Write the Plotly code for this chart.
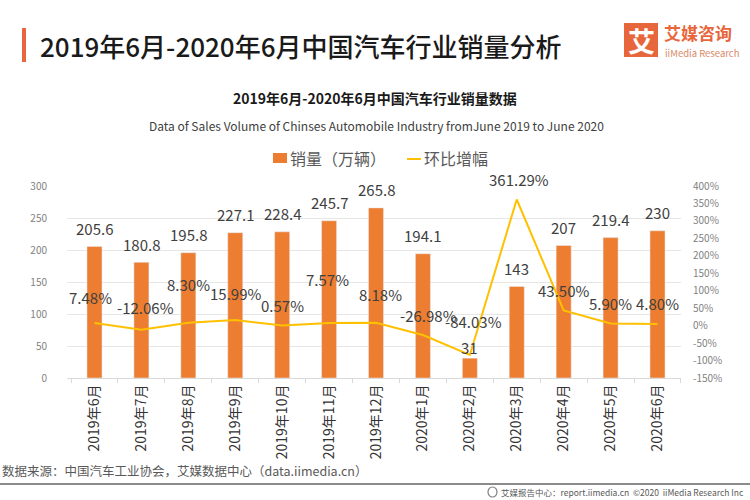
import plotly.graph_objects as go

months = ["2019年6月", "2019年7月", "2019年8月", "2019年9月", "2019年10月", "2019年11月",
          "2019年12月", "2020年1月", "2020年2月", "2020年3月", "2020年4月", "2020年5月", "2020年6月"]
sales = [205.6, 180.8, 195.8, 227.1, 228.4, 245.7, 265.8, 194.1, 31, 143, 207, 219.4, 230]
mom_growth = [7.48, -12.06, 8.30, 15.99, 0.57, 7.57, 8.18, -26.98, -84.03, 361.29, 43.50, 5.90, 4.80]
sales_tickvals = [0, 50, 100, 150, 200, 250, 300]
growth_tickvals = [-150, -100, -50, 0, 50, 100, 150, 200, 250, 300, 350, 400]
growth_ticktext = [f"{v}%" for v in growth_tickvals]

W, H = 750, 500
L, R, T, B = 67, 69, 186, 122
PW, PH = W - L - R, H - T - B


def px(x):
    return (x - L) / PW


def py(y):
    return (H - B - y) / PH


FONT = "Noto Sans CJK SC, Noto Sans, sans-serif"
ORANGE = "#ED7D31"
YELLOW = "#FFC000"
TXT = "#404040"
LOGO = "#E8663C"

fig = go.Figure()
fig.add_trace(go.Bar(x=months, y=sales, name="销量（万辆）", marker_color=ORANGE,
                     width=0.32, yaxis="y", showlegend=False))
fig.add_trace(go.Scatter(x=months, y=mom_growth, name="环比增幅", mode="lines",
                         line=dict(color=YELLOW, width=2), yaxis="y2", showlegend=False))

annotations = []
# bar value labels
bar_shift = [18] * len(sales)
bar_shift[8] = 11
for m, v, s in zip(months, sales, bar_shift):
    annotations.append(dict(x=m, y=v, xref="x", yref="y", text=f"{v:g}", showarrow=False,
                            yanchor="middle", yshift=s, font=dict(size=15, color=TXT, family=FONT)))
# line value labels
line_shift = [26, 22, 38, 27, 20, 43, 28, 20, 33, 20, 20, 20, 20]
line_xshift = [-4, 4, 0, 0, 0, -2, 4, 6, 4, 2, 0, 0, 0]
for m, v, s, xs in zip(months, mom_growth, line_shift, line_xshift):
    annotations.append(dict(x=m, y=v, xref="x", yref="y2", text=f"{v:.2f}%", showarrow=False,
                            yanchor="middle", yshift=s, xshift=xs,
                            font=dict(size=15, color=TXT, family=FONT)))


def txt(x, y, text, size, color, anchor="left", weight=None, family=FONT):
    f = dict(size=size, color=color, family=family)
    if weight:
        f["weight"] = weight
    return dict(x=px(x), y=py(y), xref="paper", yref="paper", xanchor=anchor, yanchor="middle",
                text=text, showarrow=False, font=f, borderpad=0)


annotations += [
    txt(39, 45, "2019年6月-2020年6月中国汽车行业销量分析", 26, "#1a1a1a", weight=500),
    txt(375, 98, "<b>2019年6月-2020年6月中国汽车行业销量数据</b>", 14, "#1a1a1a", anchor="center"),
    txt(376, 125, "Data of Sales Volume of Chinses Automobile Industry fromJune 2019 to June 2020",
        12, TXT, anchor="center"),
    # legend
    txt(289, 158, "销量（万辆）", 16, "#595959"),
    txt(423, 158, "环比增幅", 16, "#595959"),
    # logo
    txt(641, 40, "<b>艾</b>", 27, "white", anchor="center"),
    txt(663, 32, "<b>艾媒咨询</b>", 17, LOGO),
    txt(664, 53, "iiMedia Research", 9.5, "#D98A6A"),
    # footer
    txt(1, 470, "数据来源：中国汽车工业协会，艾媒数据中心（data.iimedia.cn）", 12.5, "#595959"),
    txt(500, 492, "艾媒报告中心：report.iimedia.cn  ©2020  iiMedia Research Inc", 8.5, "#595959",
        family="Liberation Sans Narrow, Noto Sans CJK SC, sans-serif"),
]

shapes = [
    dict(type="rect", xref="paper", yref="paper", x0=px(22), x1=px(26), y0=py(62), y1=py(28),
         fillcolor=LOGO, line_width=0),
    dict(type="rect", xref="paper", yref="paper", x0=px(624), x1=px(658), y0=py(57), y1=py(23),
         fillcolor=LOGO, line_width=0),
    # legend symbols
    dict(type="rect", xref="paper", yref="paper", x0=px(273), x1=px(287), y0=py(163), y1=py(153),
         fillcolor=ORANGE, line_width=0),
    dict(type="line", xref="paper", yref="paper", x0=px(407), x1=px(421), y0=py(159), y1=py(159),
         line=dict(color=YELLOW, width=2)),
    # footer rule
    dict(type="line", xref="paper", yref="paper", x0=px(0), x1=px(750), y0=py(484), y1=py(484),
         line=dict(color="#8c8c8c", width=2)),
    dict(type="circle", xref="paper", yref="paper", x0=px(488), x1=px(497), y0=py(497), y1=py(487),
         line=dict(color="#7f7f7f", width=1.2)),
]

fig.update_layout(
    width=W, height=H, autosize=False,
    margin=dict(l=L, r=R, t=T, b=B, pad=0),
    paper_bgcolor="white", plot_bgcolor="white",
    font=dict(family=FONT, color=TXT),
    showlegend=False,
    xaxis=dict(type="category", tickangle=-90, tickfont=dict(size=14, color="#333333", family=FONT),
               showline=True, linecolor="#d9d9d9", linewidth=1, ticks="outside",
               tickson="boundaries", ticklen=4, tickcolor="#d9d9d9", showgrid=False),
    yaxis=dict(range=[0, 300], tickvals=sales_tickvals, showgrid=True, gridcolor="#e6e6e6",
               tickfont=dict(size=10, color="#7f7f7f"), zeroline=False, ticks="",
               ticklabelstandoff=19),
    yaxis2=dict(range=[-150, 400], tickvals=growth_tickvals, ticktext=growth_ticktext,
                overlaying="y", side="right", showgrid=False, zeroline=False,
                tickfont=dict(size=10, color="#7f7f7f"), ticklabelstandoff=11),
    annotations=annotations,
    shapes=shapes,
)

fig.write_html("out.html", config={"displayModeBar": False},
               post_script="document.body.style.margin='0';")
